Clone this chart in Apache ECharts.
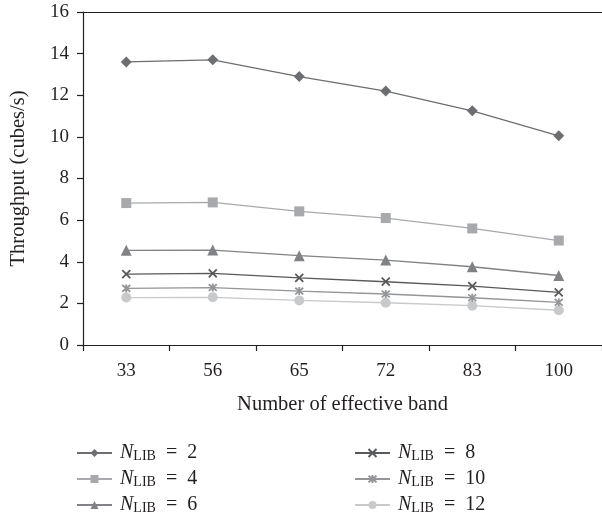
<!DOCTYPE html>
<html>
<head>
<meta charset="utf-8">
<script src="https://cdn.jsdelivr.net/npm/echarts@6/dist/echarts.min.js"></script>
<style>
  html, body { margin: 0; padding: 0; background: #fff; }
  #chart { width: 602px; height: 518px; }
</style>
</head>
<body>
<div id="chart"></div>
<script>
const bands = ['33', '56', '65', '72', '83', '100'];
const nlib = [2, 4, 6, 8, 10, 12];

const n2 = [13.6, 13.7, 12.9, 12.2, 11.25, 10.05];
const n4 = [6.82, 6.85, 6.42, 6.1, 5.6, 5.02];
const n6 = [4.55, 4.56, 4.29, 4.08, 3.76, 3.34];
const n8 = [3.41, 3.44, 3.23, 3.04, 2.83, 2.53];
const n10 = [2.72, 2.76, 2.59, 2.45, 2.27, 2.05];
const n12 = [2.28, 2.29, 2.14, 2.03, 1.89, 1.67];

const yTicks = { min: 0, max: 16, interval: 2 };

const font = 'Liberation Serif';
const ink = '#231f20';
const fs = 19;

const crossPath = 'path://M0,0L10,10M10,0L0,10';
const starPath = 'path://M0,0L10,10M10,0L0,10M5,-1L5,11';

const looks = [
  { values: n2,  color: '#6d6e71', symbol: 'diamond',  size: 11 },
  { values: n4,  color: '#a7a9ac', symbol: 'rect',     size: 10 },
  { values: n6,  color: '#808285', symbol: 'triangle', size: 11 },
  { values: n8,  color: '#58595b', symbol: crossPath,  size: 8, stroke: true },
  { values: n10, color: '#939598', symbol: starPath,   size: 8, stroke: true },
  { values: n12, color: '#c8c9cb', symbol: 'circle',   size: 10 }
];

const seriesName = (n) => 'N=' + n;

const series = looks.map((s, i) => ({
  name: seriesName(nlib[i]),
  type: 'line',
  data: s.values,
  symbol: s.symbol,
  symbolSize: s.size,
  showAllSymbol: true,
  lineStyle: { color: s.color, width: 1.3 },
  itemStyle: s.stroke
    ? { color: s.color, borderColor: s.color, borderWidth: 1.8 }
    : { color: s.color },
  emphasis: { disabled: true },
  z: 10 - i
}));

const legendText = {
  fontFamily: font,
  color: ink,
  rich: {
    n: { fontFamily: font, fontStyle: 'italic', fontSize: 20, color: ink, lineHeight: 20, padding: [0, 0, 0, 3] },
    s: { fontFamily: font, fontSize: 14, color: ink, lineHeight: 20, padding: [6, 0, 0, 0] },
    v: { fontFamily: font, fontSize: 20, color: ink, lineHeight: 20 }
  }
};
const legendFormatter = (name) => '{n|N}{s|LIB}{v|  =  ' + name.slice(2) + '}';

const legendBase = {
  orient: 'vertical',
  top: 443,
  height: 75,
  padding: 0,
  itemWidth: 35,
  itemHeight: 10,
  itemGap: 6,
  textStyle: legendText,
  formatter: legendFormatter,
  selectedMode: false
};

const chart = echarts.init(document.getElementById('chart'));
chart.setOption({
  animation: false,
  backgroundColor: '#fff',
  textStyle: { fontFamily: font },
  grid: { left: 82, right: 0, top: 12, bottom: 173 },
  legend: [
    Object.assign({}, legendBase, { left: 76, data: nlib.slice(0, 3).map(seriesName) }),
    Object.assign({}, legendBase, { left: 354, data: nlib.slice(3).map(seriesName) })
  ],
  xAxis: [
    {
      type: 'category',
      data: bands,
      boundaryGap: true,
      name: 'Number of effective band',
      nameLocation: 'middle',
      nameGap: 49,
      nameTextStyle: { fontFamily: font, fontSize: 20.5, color: ink },
      axisLine: { lineStyle: { color: ink, width: 1.2 } },
      axisTick: { show: true, length: 6, inside: false, lineStyle: { color: ink, width: 1.2 } },
      axisLabel: { fontFamily: font, fontSize: fs, color: ink, margin: 17 },
      splitLine: { show: false }
    },
    {
      type: 'category',
      data: bands,
      position: 'top',
      axisLine: { lineStyle: { color: ink, width: 1.2 } },
      axisTick: { show: false },
      axisLabel: { show: false },
      splitLine: { show: false }
    }
  ],
  yAxis: {
    type: 'value',
    min: yTicks.min,
    max: yTicks.max,
    interval: yTicks.interval,
    name: 'Throughput (cubes/s)',
    nameLocation: 'middle',
    nameGap: 54,
    nameTextStyle: { fontFamily: font, fontSize: 20.5, color: ink },
    axisLine: { show: true, lineStyle: { color: ink, width: 1.2 } },
    axisTick: { show: true, length: 6, inside: false, lineStyle: { color: ink, width: 1.2 } },
    axisLabel: { fontFamily: font, fontSize: fs, color: ink, margin: 14 },
    splitLine: { show: false }
  },
  series: series
});
</script>
</body>
</html>
